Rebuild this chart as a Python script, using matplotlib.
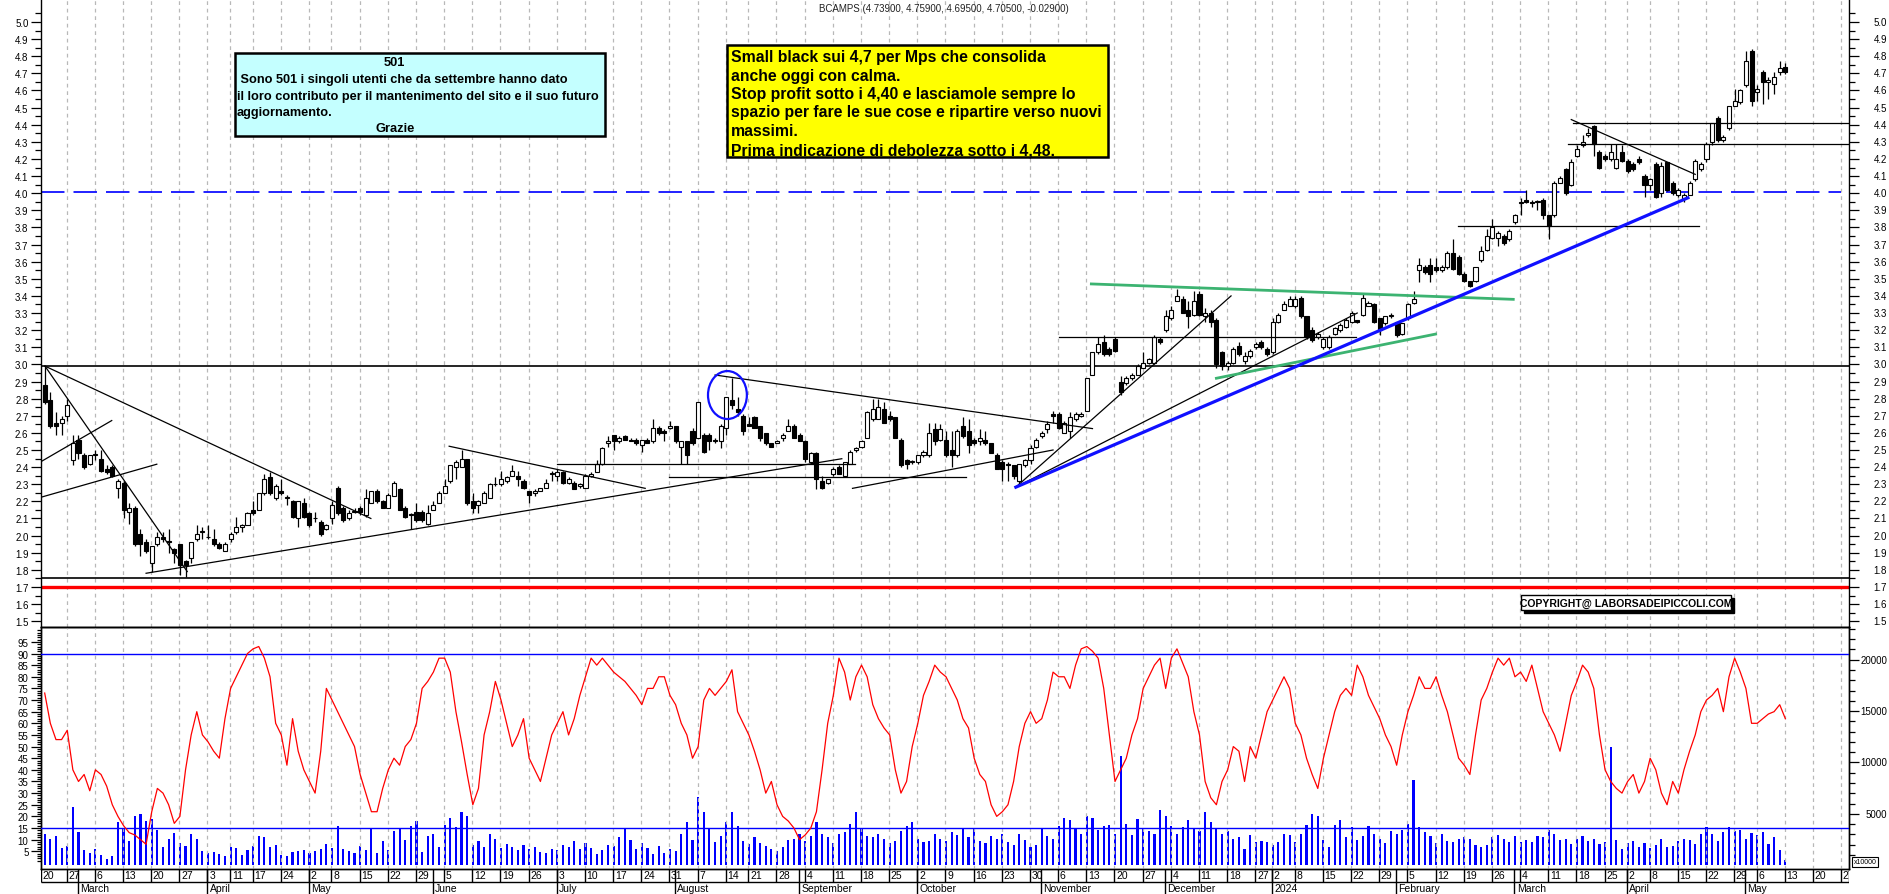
import matplotlib
matplotlib.use("Agg")
import matplotlib.pyplot as plt
import matplotlib.transforms as mtrans
from matplotlib.patches import Rectangle, Ellipse
from matplotlib.ticker import FixedLocator, FormatStrFormatter, NullFormatter
import numpy as np
import pandas as pd

plt.rcParams['font.family'] = ['Liberation Sans', 'DejaVu Sans']

# ---------------- data ----------------
title_text = "BCAMPS (4.73900, 4.75900, 4.69500, 4.70500, -0.02900)"
holidays = ['2023-04-07', '2023-04-10', '2023-05-01', '2023-08-15', '2023-12-25',
            '2023-12-26', '2024-01-01', '2024-03-29', '2024-04-01', '2024-05-01']
first_day, axis_last_day = '2023-02-20', '2024-05-31'
month_names = ['January', 'February', 'March', 'April', 'May', 'June', 'July',
               'August', 'September', 'October', 'November', 'December']

opens = [2.88,2.79,2.66,2.66,2.70,2.44,2.56,2.47,2.42,2.47,
 2.45,2.39,2.40,2.28,2.31,2.14,2.16,2.01,1.96,1.84,
 1.95,1.99,1.97,1.92,1.95,1.85,1.87,1.98,2.02,1.99,
 1.98,1.95,1.91,1.98,2.02,2.05,2.06,2.15,2.15,2.25,
 2.34,2.22,2.26,2.22,2.20,2.10,2.19,2.13,2.10,2.08,
 2.04,2.10,2.28,2.16,2.10,2.14,2.16,2.12,2.19,2.26,
 2.20,2.16,2.23,2.27,2.16,2.12,2.14,2.14,2.07,2.15,
 2.19,2.25,2.32,2.40,2.40,2.45,2.20,2.18,2.19,2.22,
 2.30,2.30,2.32,2.35,2.35,2.32,2.26,2.25,2.26,2.28,
 2.36,2.35,2.37,2.31,2.31,2.29,2.28,2.35,2.37,2.42,
 2.54,2.59,2.55,2.58,2.56,2.56,2.53,2.56,2.55,2.63,
 2.61,2.63,2.64,2.52,2.55,2.61,2.57,2.59,2.59,2.55,
 2.55,2.63,2.79,2.74,2.70,2.65,2.69,2.64,2.60,2.54,
 2.54,2.57,2.61,2.64,2.59,2.55,2.43,2.48,2.32,2.31,
 2.36,2.40,2.35,2.42,2.50,2.52,2.57,2.68,2.68,2.74,
 2.70,2.69,2.56,2.44,2.43,2.43,2.47,2.47,2.62,2.56,
 2.56,2.50,2.47,2.64,2.61,2.56,2.55,2.56,2.54,2.47,
 2.43,2.42,2.41,2.32,2.41,2.44,2.52,2.58,2.62,2.71,
 2.71,2.60,2.61,2.68,2.70,2.73,2.94,3.07,3.13,3.09,
 3.15,2.90,2.89,2.92,2.94,2.98,3.01,3.01,3.15,3.20,
 3.27,3.37,3.38,3.32,3.29,3.41,3.28,3.30,3.26,3.07,
 2.99,3.01,3.11,3.02,3.05,3.10,3.13,3.09,3.07,3.25,
 3.32,3.34,3.34,3.39,3.28,3.20,3.16,3.10,3.10,3.18,
 3.20,3.22,3.25,3.26,3.29,3.34,3.35,3.27,3.24,3.28,
 3.25,3.18,3.27,3.36,3.55,3.57,3.58,3.57,3.55,3.57,
 3.65,3.63,3.53,3.49,3.49,3.61,3.67,3.74,3.74,3.75,
 3.73,3.83,3.94,3.96,3.95,3.95,3.96,3.87,3.87,4.06,
 4.14,4.05,4.22,4.28,4.34,4.39,4.24,4.22,4.20,4.15,
 4.24,4.19,4.17,4.20,4.10,4.05,4.17,4.00,4.18,4.06,
 3.99,3.97,3.99,4.08,4.14,4.20,4.30,4.44,4.31,4.38,
 4.51,4.53,4.63,4.83,4.59,4.71,4.65,4.64,4.71,4.739]

highs = [2.99,2.84,2.72,2.70,2.80,2.59,2.59,2.48,2.47,2.50,
 2.50,2.41,2.41,2.33,2.32,2.19,2.17,2.04,1.98,1.94,
 2.02,2.02,2.04,1.93,1.95,1.86,1.96,2.06,2.05,2.06,
 2.04,1.96,1.96,2.02,2.11,2.07,2.14,2.20,2.25,2.36,
 2.37,2.30,2.33,2.24,2.21,2.20,2.22,2.14,2.14,2.09,
 2.07,2.20,2.29,2.17,2.15,2.16,2.17,2.27,2.26,2.27,
 2.21,2.25,2.32,2.28,2.17,2.13,2.19,2.15,2.18,2.20,
 2.26,2.33,2.41,2.44,2.50,2.45,2.25,2.21,2.26,2.31,
 2.34,2.38,2.35,2.41,2.38,2.33,2.26,2.27,2.28,2.33,
 2.38,2.39,2.38,2.34,2.32,2.31,2.36,2.37,2.44,2.52,
 2.58,2.59,2.58,2.59,2.57,2.57,2.56,2.57,2.68,2.64,
 2.62,2.67,2.64,2.55,2.55,2.63,2.78,2.60,2.60,2.57,
 2.65,2.81,2.92,2.81,2.71,2.69,2.70,2.64,2.60,2.54,
 2.56,2.60,2.68,2.65,2.60,2.56,2.49,2.49,2.35,2.33,
 2.40,2.41,2.43,2.50,2.52,2.56,2.73,2.80,2.80,2.78,
 2.73,2.69,2.57,2.45,2.44,2.47,2.50,2.66,2.66,2.65,
 2.61,2.61,2.62,2.69,2.68,2.57,2.62,2.61,2.54,2.48,
 2.44,2.43,2.41,2.42,2.45,2.53,2.57,2.61,2.67,2.73,
 2.72,2.67,2.72,2.72,2.72,2.92,3.07,3.16,3.17,3.10,
 3.16,2.93,2.93,2.95,3.00,3.07,3.04,3.17,3.16,3.32,
 3.34,3.44,3.40,3.37,3.43,3.43,3.33,3.32,3.27,3.08,
 3.02,3.10,3.13,3.07,3.09,3.13,3.14,3.10,3.27,3.30,
 3.37,3.40,3.40,3.40,3.28,3.22,3.19,3.16,3.17,3.22,
 3.24,3.27,3.31,3.26,3.41,3.37,3.36,3.27,3.28,3.30,
 3.25,3.24,3.36,3.43,3.62,3.58,3.62,3.62,3.58,3.66,
 3.73,3.64,3.54,3.49,3.57,3.69,3.79,3.85,3.78,3.76,
 3.79,3.88,3.97,4.02,3.96,3.96,3.97,3.87,4.07,4.10,
 4.15,4.20,4.28,4.34,4.38,4.40,4.25,4.23,4.29,4.29,
 4.28,4.20,4.18,4.22,4.11,4.09,4.18,4.18,4.18,4.07,
 4.03,4.00,4.07,4.20,4.18,4.30,4.41,4.45,4.34,4.51,
 4.61,4.61,4.83,4.84,4.63,4.72,4.68,4.71,4.77,4.759]

lows = [2.77,2.63,2.59,2.59,2.67,2.41,2.45,2.39,2.41,2.44,
 2.37,2.36,2.34,2.22,2.10,2.07,1.94,1.88,1.90,1.79,
 1.94,1.96,1.90,1.84,1.77,1.76,1.84,1.97,1.98,1.98,
 1.94,1.92,1.91,1.96,2.01,2.02,2.06,2.12,2.15,2.24,
 2.24,2.21,2.24,2.18,2.10,2.05,2.10,2.05,2.08,2.00,
 2.03,2.07,2.12,2.08,2.09,2.13,2.12,2.11,2.19,2.19,
 2.16,2.16,2.23,2.15,2.10,2.04,2.08,2.08,2.06,2.15,
 2.19,2.25,2.31,2.33,2.40,2.18,2.13,2.13,2.19,2.22,
 2.29,2.29,2.31,2.35,2.29,2.27,2.19,2.23,2.26,2.28,
 2.32,2.32,2.30,2.30,2.27,2.28,2.28,2.34,2.37,2.41,
 2.52,2.50,2.54,2.56,2.55,2.53,2.49,2.54,2.54,2.59,
 2.55,2.62,2.54,2.42,2.42,2.53,2.57,2.48,2.50,2.54,
 2.51,2.59,2.74,2.70,2.59,2.64,2.63,2.55,2.53,2.52,
 2.54,2.55,2.61,2.57,2.55,2.43,2.42,2.27,2.27,2.30,
 2.35,2.36,2.35,2.42,2.49,2.51,2.57,2.67,2.68,2.66,
 2.67,2.57,2.40,2.39,2.42,2.42,2.46,2.46,2.53,2.55,
 2.46,2.40,2.46,2.57,2.48,2.53,2.53,2.53,2.48,2.39,
 2.32,2.32,2.33,2.29,2.40,2.42,2.51,2.57,2.60,2.66,
 2.62,2.60,2.57,2.67,2.69,2.73,2.94,3.06,3.05,3.05,
 3.07,2.82,2.88,2.91,2.94,2.98,3.00,3.00,3.12,3.19,
 3.26,3.37,3.30,3.21,3.28,3.28,3.25,3.22,2.98,2.97,
 2.97,3.00,3.05,3.00,3.04,3.09,3.09,3.05,3.06,3.24,
 3.32,3.34,3.33,3.27,3.15,3.13,3.15,3.09,3.09,3.17,
 3.19,3.21,3.24,3.24,3.28,3.34,3.24,3.17,3.23,3.27,
 3.16,3.17,3.26,3.35,3.48,3.53,3.48,3.54,3.54,3.56,
 3.55,3.52,3.48,3.45,3.48,3.60,3.66,3.73,3.69,3.70,
 3.72,3.82,3.87,3.94,3.92,3.90,3.85,3.73,3.86,4.06,
 3.99,4.04,4.21,4.27,4.33,4.22,4.14,4.19,4.19,4.14,
 4.18,4.12,4.13,4.17,3.98,4.02,3.97,3.98,4.01,3.99,
 3.98,3.95,3.99,4.07,4.13,4.18,4.28,4.30,4.30,4.37,
 4.51,4.52,4.62,4.51,4.54,4.52,4.55,4.58,4.69,4.695]

closes = [2.78,2.64,2.64,2.68,2.76,2.54,2.48,2.40,2.47,2.47,
 2.38,2.37,2.35,2.32,2.15,2.16,1.95,1.95,1.91,1.94,
 1.99,1.98,1.96,1.90,1.83,1.83,1.96,2.01,2.02,1.99,
 1.95,1.93,1.95,2.01,2.05,2.06,2.13,2.13,2.25,2.33,
 2.25,2.29,2.25,2.22,2.11,2.20,2.11,2.06,2.10,2.01,
 2.06,2.18,2.13,2.09,2.13,2.14,2.14,2.22,2.26,2.20,
 2.16,2.24,2.31,2.15,2.11,2.12,2.09,2.09,2.13,2.18,
 2.25,2.29,2.41,2.43,2.45,2.19,2.16,2.20,2.25,2.30,
 2.30,2.33,2.34,2.38,2.33,2.28,2.24,2.26,2.28,2.31,
 2.36,2.37,2.31,2.33,2.27,2.30,2.35,2.36,2.42,2.51,
 2.55,2.55,2.57,2.56,2.55,2.54,2.56,2.54,2.63,2.60,
 2.60,2.64,2.55,2.55,2.47,2.54,2.78,2.49,2.55,2.56,
 2.64,2.81,2.76,2.72,2.61,2.64,2.63,2.57,2.54,2.52,
 2.55,2.59,2.64,2.57,2.55,2.45,2.48,2.33,2.28,2.33,
 2.39,2.36,2.43,2.49,2.51,2.55,2.72,2.74,2.75,2.66,
 2.68,2.57,2.41,2.42,2.43,2.47,2.49,2.60,2.55,2.62,
 2.47,2.47,2.61,2.58,2.53,2.54,2.57,2.54,2.48,2.39,
 2.39,2.41,2.35,2.42,2.44,2.51,2.56,2.60,2.65,2.70,
 2.63,2.66,2.69,2.71,2.71,2.92,3.07,3.12,3.06,3.06,
 3.08,2.84,2.92,2.94,2.99,3.01,3.03,3.16,3.13,3.28,
 3.32,3.40,3.30,3.28,3.37,3.29,3.30,3.25,3.00,2.99,
 3.01,3.09,3.06,3.05,3.08,3.12,3.10,3.06,3.25,3.29,
 3.35,3.38,3.38,3.28,3.16,3.14,3.18,3.15,3.16,3.21,
 3.23,3.26,3.30,3.25,3.39,3.36,3.25,3.20,3.28,3.29,
 3.17,3.24,3.35,3.38,3.58,3.54,3.53,3.55,3.57,3.65,
 3.56,3.53,3.49,3.46,3.57,3.66,3.75,3.80,3.77,3.71,
 3.78,3.87,3.95,3.95,3.94,3.95,3.87,3.81,4.06,4.09,
 4.00,4.18,4.26,4.30,4.35,4.29,4.15,4.20,4.24,4.20,
 4.19,4.13,4.14,4.18,4.05,4.08,3.98,4.16,4.02,4.00,
 4.02,3.99,4.06,4.19,4.17,4.29,4.41,4.31,4.33,4.51,
 4.54,4.60,4.77,4.54,4.61,4.65,4.66,4.68,4.73,4.705]

volume = [3000,2600,2800,1700,1900,5700,3200,1500,1200,1600,1000,600,900,4200,3600,2400,4800,5000,4300,4500,
 3400,1800,2600,3100,2200,1900,3000,2600,1400,1200,
 1300,1100,900,1800,1700,1000,1500,1900,2800,2700,1800,2000,1000,900,1300,1400,1500,1200,1400,
 1600,2100,1700,3800,1600,1400,1200,1900,1500,3600,1200,2400,1500,3300,3500,2500,3800,4300,1300,2800,3000,1800,
 3900,4600,3700,5200,4800,2000,2400,1800,3000,2600,1700,2100,1800,1500,2000,1600,1800,1300,1200,1600,1500,2000,
 1800,2400,1600,2200,1700,1100,1500,2000,1900,2700,3600,2500,1600,2200,1700,1100,1900,1200,1600,1400,3000,
 4200,2500,6600,5200,3500,2300,2800,4200,5200,3800,2400,2100,2700,2200,1900,1600,1400,1800,2500,2600,3000,2400,
 2800,4200,3000,2700,2200,3000,3200,4000,5200,3500,2800,2700,3000,2600,2200,2400,3300,3800,4200,2600,2300,
 2400,3000,2600,2400,3200,2900,3600,2700,3500,2400,2200,2800,2600,3000,2300,2000,3000,2500,1800,2000,3500,2800,
 2600,3800,4600,4400,3600,3000,4800,4600,3400,3800,3900,3000,10600,4000,2900,4500,3500,3300,3000,5400,4800,3800,
 3000,3700,4400,3500,3300,5200,4200,3600,3000,3300,2600,2700,1600,2900,2300,2400,2300,2000,2300,
 3000,2900,2300,3000,3900,5000,4800,2500,1800,3900,4400,2700,3700,2500,2800,3800,3000,2600,2200,3300,3000,
 3400,4000,8300,3700,3200,2800,2200,3000,2400,2300,2600,2700,2600,2000,1800,2000,2700,2900,2600,2300,2800,
 2300,2500,2300,2800,2700,3400,3000,2500,2600,2100,2600,2800,2400,2600,2100,2300,11500,2500,1600,2200,
 2400,1800,2200,1700,2000,2600,1800,1900,2400,2600,2500,2100,3000,3700,3000,2400,3200,3700,3300,3400,2600,
 3100,2900,3200,2100,2700,1500,500]

# oscillator value for every bar (left scale of the lower panel)
osc = [73,60,53,53,57,40,35,38,31,40,38,33,25,20,16,13,12,10,8,22,32,30,25,17,20,40,55,65,55,52,48,45,
 62,75,80,85,90,92,93,88,80,60,55,42,62,48,40,35,30,48,75,70,65,60,55,50,38,30,22,22,32,40,45,42,
 50,53,60,75,78,82,88,88,82,65,52,38,25,32,55,65,78,70,60,50,55,62,45,40,35,45,55,60,65,55,62,72,
 80,88,85,88,85,82,80,78,75,72,68,75,75,80,80,72,68,60,55,45,50,70,75,72,75,78,83,65,60,55,48,40,
 30,35,25,20,18,15,10,12,15,22,40,60,72,88,82,70,80,85,80,68,62,58,55,40,30,35,50,60,72,78,85,82,
 80,75,70,62,58,45,38,35,25,20,22,25,35,50,60,65,60,62,70,82,80,80,75,85,92,93,91,88,75,55,35,40,
 45,55,62,75,80,85,88,75,88,92,86,80,65,55,35,28,25,35,40,50,48,35,50,45,55,65,70,75,80,75,60,55,
 45,38,32,45,55,65,72,75,72,85,80,72,67,62,55,50,42,55,65,72,80,75,75,80,72,65,55,45,42,38,55,70,
 75,82,88,85,88,80,82,78,85,75,65,60,55,48,60,72,78,85,82,75,55,40,35,32,30,35,38,30,35,45,40,30,
 25,35,30,40,48,55,65,70,72,75,65,80,88,82,75,60,60,62,64,65,68,62]

# trend lines drawn on the chart: (x0, p0, x1, p1) in bar-index / price units
thin_lines = [(0.05, 2.99, 57.9, 2.10), (0.05, 2.99, 25.3, 1.79),
              (-0.66, 2.432, 11.9, 2.672), (-0.66, 2.224, 19.9, 2.417),
              (18.0, 1.78, 141.5, 2.449), (71.8, 2.522, 106.6, 2.276),
              (119.0, 2.938, 186.0, 2.625), (90.9, 2.42, 143.9, 2.42),
              (110.8, 2.34, 163.6, 2.34), (143.4, 2.276, 179.0, 2.50),
              (172.4, 2.283, 210.6, 3.40), (172.4, 2.283, 233.0, 3.30),
              (180.0, 3.158, 232.8, 3.158), (250.9, 3.81, 293.7, 3.81),
              (271.3, 4.41, 321.0, 4.41), (270.5, 4.287, 321.0, 4.287),
              (271.0, 4.43, 293.0, 4.11)]
blue_line = (172.4, 2.283, 291.7, 3.973)
green_lines = [(185.8, 3.47, 260.7, 3.38), (208.0, 2.919, 246.9, 3.177)]
level_black = [2.99, 1.75]
level_red = 1.70
level_blue_dash = 4.005
circle = (121.2, 2.821, 6.9, 0.28)

# ---------------- layout ----------------
W, H = 1890, 895
fig = plt.figure(figsize=(W / 100, H / 100), dpi=100)
fig.patch.set_facecolor('white')
def FX(x): return x / W
def FY(y): return 1 - y / H
L, R = 41, 1849
Y_MID, Y_BOT = 628, 870
ax = fig.add_axes([FX(L), FY(Y_MID), FX(R) - FX(L), FY(0) - FY(Y_MID)])
ax2 = fig.add_axes([FX(L), FY(Y_BOT), FX(R) - FX(L), FY(Y_MID) - FY(Y_BOT)])
axv = ax2.twinx()
ax3 = fig.add_axes([FX(L), 0, FX(R) - FX(L), FY(Y_BOT)])

hol = pd.to_datetime(holidays)
days = pd.bdate_range(first_day, axis_last_day)
days = days[~days.isin(hol)]
n = len(closes)
xi = np.arange(n)
XL, XR = -0.657, 320.3
for a in (ax, ax2, axv, ax3):
    a.set_xlim(XL, XR)
ax.set_ylim(1.4661, 5.1343)
ax2.set_ylim(-2.62, 101.39)
axv.set_ylim(-368, 23186)
ax3.set_ylim(0, 1)

# week / month positions
SHIFT = -1.1
week_idx, month_idx = [], []
prev_w, prev_m = None, None
for i, d in enumerate(days):
    wk = tuple(d.isocalendar())[:2]
    if wk != prev_w:
        week_idx.append(i)
        prev_w = wk
    if d.month != prev_m:
        month_idx.append(i)
        prev_m = d.month

grid_x = [i + SHIFT for i in week_idx if XL < i + SHIFT < XR]
for a in (ax, ax2):
    a.vlines(grid_x, 0, 1, transform=a.get_xaxis_transform(), colors='#b8b8b8',
             linestyles=(0, (3, 3)), linewidth=0.9, zorder=0)

# ---------------- candles ----------------
O = np.array(opens); Hh = np.array(highs); Lo = np.array(lows); C = np.array(closes)
ax.vlines(xi, Lo, Hh, colors='black', linewidth=0.9, zorder=3)
up = C >= O
bb = np.minimum(O, C)
bh = np.maximum(np.abs(C - O), 0.004)
ax.bar(xi[up], bh[up], bottom=bb[up], width=0.72, facecolor='white', edgecolor='black',
       linewidth=0.8, zorder=4)
ax.bar(xi[~up], bh[~up], bottom=bb[~up], width=0.72, facecolor='black', edgecolor='black',
       linewidth=0.8, zorder=4)

# levels and trendlines
for lv in level_black:
    ax.axhline(lv, color='black', linewidth=1.2, zorder=2)
ax.axhline(level_red, color='#ff0000', linewidth=2.4, zorder=2)
ax.plot([XL, 318.8], [level_blue_dash] * 2, color='#1010ff', linewidth=1.3,
        dashes=(13, 5), zorder=2)
for (x0, y0, x1, y1) in thin_lines:
    ax.plot([x0, x1], [y0, y1], color='black', linewidth=0.9, zorder=5)
for (x0, y0, x1, y1) in green_lines:
    ax.plot([x0, x1], [y0, y1], color='#3cb371', linewidth=2.0, zorder=5)
ax.plot([blue_line[0], blue_line[2]], [blue_line[1], blue_line[3]], color='#1010ff',
        linewidth=2.3, zorder=6)
ax.add_patch(Ellipse((circle[0], circle[1]), circle[2], circle[3], fill=False,
                     edgecolor='#1010ff', linewidth=1.6, zorder=6))

# ---------------- lower panel ----------------
axv.bar(xi, volume, width=0.38, color='#0000ff', zorder=2)
ax2.plot(xi[:len(osc)], osc[:n], color='#ff0000', linewidth=0.9, zorder=4)
ax2.axhline(90, color='#0000ff', linewidth=1.0, zorder=3)
ax2.axhline(15, color='#0000ff', linewidth=1.0, zorder=3)
ax2.set_zorder(axv.get_zorder() + 1)
ax2.patch.set_visible(False)

# ---------------- axes styling ----------------
for a in (ax, ax2, axv):
    a.set_xticks([])
    for s in a.spines.values():
        s.set_color('black'); s.set_linewidth(1.0)
ax.spines['top'].set_visible(False)

maj = np.round(np.arange(1.5, 5.0001, 0.1), 2)
mnr = np.round(np.arange(1.45, 5.0501, 0.1), 3)
ax.yaxis.set_major_locator(FixedLocator(maj))
ax.yaxis.set_minor_locator(FixedLocator(mnr))
ax.yaxis.set_major_formatter(FormatStrFormatter('%.1f'))
ax.tick_params(axis='y', which='both', direction='out', left=True, right=True,
               labelleft=True, labelright=False, labelsize=7, pad=2, width=0.9)
ax.tick_params(axis='y', which='major', length=7)
ax.tick_params(axis='y', which='minor', length=4)
tr = mtrans.blended_transform_factory(ax.transAxes, ax.transData)
xr_lab = (1887 - L) / (R - L)
for v in maj:
    ax.text(xr_lab, v, '%.1f' % v, transform=tr, ha='right', va='center', fontsize=7)

ax2.yaxis.set_major_locator(FixedLocator(np.arange(5, 96, 5)))
ax2.yaxis.set_minor_locator(FixedLocator(np.arange(1, 101, 1)))
ax2.yaxis.set_major_formatter(FormatStrFormatter('%d'))
ax2.tick_params(axis='y', which='both', direction='out', left=True, right=False,
                labelsize=7, pad=2, width=0.9)
ax2.tick_params(axis='y', which='major', length=7)
ax2.tick_params(axis='y', which='minor', length=3)

vmaj = [5000, 10000, 15000, 20000]
axv.yaxis.set_major_locator(FixedLocator(vmaj))
axv.yaxis.set_minor_locator(FixedLocator(np.arange(1000, 23001, 1000)))
axv.yaxis.set_major_formatter(NullFormatter())
axv.tick_params(axis='y', which='both', direction='out', right=True, left=False,
                labelright=False, width=0.9)
axv.tick_params(axis='y', which='major', length=7)
axv.tick_params(axis='y', which='minor', length=4)
trv = mtrans.blended_transform_factory(axv.transAxes, axv.transData)
for v in vmaj:
    axv.text(xr_lab, v, str(v), transform=trv, ha='right', va='center', fontsize=7)

# ---------------- date rows ----------------
ax3.axis('off')
ROWY = (895 - 883) / (895 - Y_BOT)
ax3.hlines(ROWY, XL, XR, colors='black', linewidth=1.0)
ax3.vlines([XL + 0.05, XR - 0.05], ROWY, 1, colors='black', linewidth=1.0)
for i in week_idx:
    t = i + SHIFT
    if t > XR:
        continue
    if t >= XL:
        ax3.vlines(t, ROWY, 1, colors='black', linewidth=1.0)
    tx = max(t, XL)
    ax3.text(tx + 0.3, (ROWY + 1) / 2, str(days[i].day), fontsize=7.5, ha='left',
             va='center', clip_on=True)
for i in month_idx:
    t = i + SHIFT
    if t < XL or t > XR:
        continue
    ax3.vlines(t, 0, 1, colors='black', linewidth=1.0)
    d = days[i]
    name = str(d.year) if d.month == 1 else month_names[d.month - 1]
    ax3.text(t + 0.4, ROWY / 2 - 0.02, name, fontsize=7.5, ha='left', va='center',
             clip_on=True)

# ---------------- texts / boxes ----------------
fig.text(FX(944), FY(9), title_text, ha='center', va='center', fontsize=7, color='#222222')

fig.add_artist(Rectangle((FX(235), FY(137)), (605 - 235) / W, (137 - 54) / H,
                         transform=fig.transFigure, facecolor='#c4ffff', edgecolor='black',
                         linewidth=1.8, zorder=10))
narrow = ['Liberation Sans Narrow', 'Liberation Sans', 'DejaVu Sans']
fig.text(FX(394), FY(63), '501', ha='center', va='center', fontsize=9.3, weight='bold',
         family=narrow, zorder=11)
for s, y in [(' Sono 501 i singoli utenti che da settembre hanno dato', 80),
             ('il loro contributo per il mantenimento del sito e il suo futuro', 97),
             ('aggiornamento.', 113)]:
    fig.text(FX(237), FY(y), s, ha='left', va='center', fontsize=9.2, weight='bold',
             family=narrow, zorder=11)
fig.text(FX(395), FY(129), 'Grazie', ha='center', va='center', fontsize=9.3,
         weight='bold', family=narrow, zorder=11)

fig.add_artist(Rectangle((FX(727), FY(158)), (1108 - 727) / W, (158 - 46) / H,
                         transform=fig.transFigure, facecolor='#ffff00', edgecolor='black',
                         linewidth=1.8, zorder=10))
yellow_lines = ['Small black sui 4,7 per Mps che consolida', 'anche oggi con calma.',
                'Stop profit sotto i 4,40 e lasciamole sempre lo',
                'spazio per fare le sue cose e ripartire verso nuovi', 'massimi.',
                'Prima indicazione di debolezza sotto i 4,48.']
for s, y in zip(yellow_lines, [57.5, 76, 94.5, 113, 131.5, 150.5]):
    fig.text(FX(731), FY(y), s, ha='left', va='center', fontsize=11.3, weight='bold',
             zorder=11)

fig.add_artist(Rectangle((FX(1524), FY(614)), (1734 - 1524) / W, 15 / H,
                         transform=fig.transFigure, facecolor='black', edgecolor='black',
                         linewidth=1.0, zorder=10))
fig.add_artist(Rectangle((FX(1521), FY(611)), (1731 - 1521) / W, 15 / H,
                         transform=fig.transFigure, facecolor='white', edgecolor='black',
                         linewidth=1.0, zorder=11))
fig.text(FX(1626), FY(603.5), 'COPYRIGHT@ LABORSADEIPICCOLI.COM', ha='center', va='center',
         fontsize=7.5, weight='bold', zorder=12)

fig.add_artist(Rectangle((FX(1852), FY(868)), 26 / W, 10 / H, transform=fig.transFigure,
                         facecolor='white', edgecolor='black', linewidth=0.8, zorder=10))
fig.text(FX(1865), FY(863), 'x10000', ha='center', va='center', fontsize=5, zorder=11)

fig.savefig('out.png', dpi=100, facecolor='white')
